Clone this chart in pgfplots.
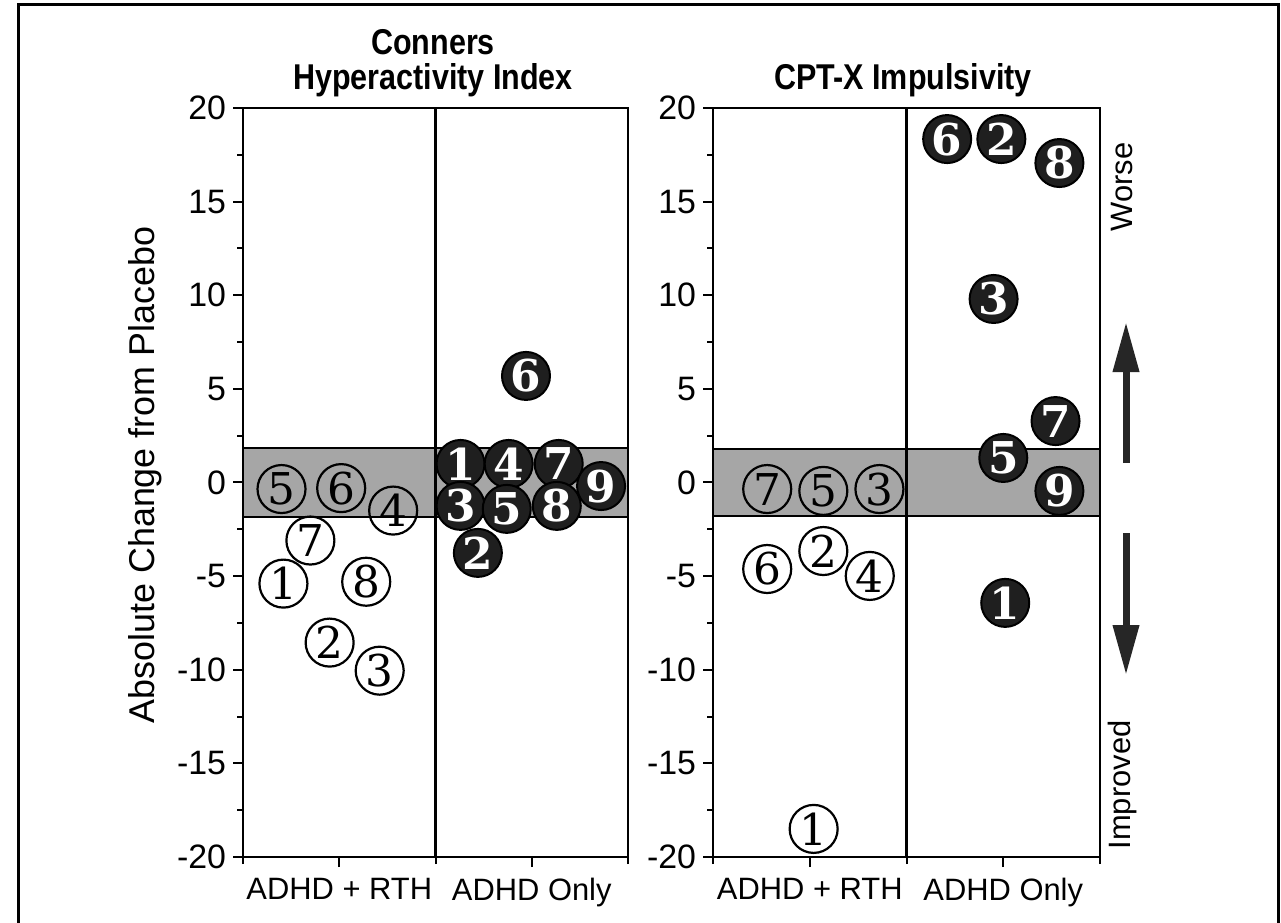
\documentclass[border=0pt]{standalone}
\usepackage{fontspec}
\setmainfont{Liberation Sans}
\newfontfamily\numfont{DejaVu Serif}
\usepackage{pgfplots}
\usepackage{pgfplotstable}
\pgfplotsset{compat=1.18}
\usetikzlibrary{arrows.meta}

\pgfplotstableread{
x y lab
0.20 -0.35 5
0.51 -0.30 6
0.78 -1.50 4
0.35 -3.10 7
0.21 -5.40 1
0.64 -5.30 8
0.45 -8.55 2
0.71 -10.05 3
}\leftopen
\pgfplotstableread{
x y lab
1.13 0.99 1
1.38 0.99 4
1.64 0.99 7
1.86 -0.19 9
1.13 -1.25 3
1.37 -1.41 5
1.63 -1.25 8
1.22 -3.76 2
1.47 5.69 6
}\leftfilled
\pgfplotstableread{
x y lab
0.28 -0.35 7
0.57 -0.45 5
0.86 -0.35 3
0.28 -4.62 6
0.57 -3.66 2
0.81 -4.99 4
0.52 -18.5 1
}\rightopen
\pgfplotstableread{
x y lab
1.21 18.34 6
1.49 18.34 2
1.79 17.06 8
1.45 9.80 3
1.77 3.28 7
1.50 1.31 5
1.79 -0.45 9
1.51 -6.43 1
}\rightfilled

\pgfplotsset{
  panel/.style={
    scale only axis, height=374.5bp,
    anchor=south west,
    xmin=0, xmax=2, ymin=-20, ymax=20,
    clip=false,
    axis line style={line width=1.2bp},
    ytick={-20,-15,...,20}, minor ytick={-17.5,-12.5,...,17.5},
    ytick pos=left, xtick pos=bottom,
    xtick={0.5,1.5}, xticklabels={ADHD + RTH, ADHD Only},
    extra x ticks={0,1,2}, extra x tick labels={},
    extra x tick style={tick align=center, major tick length=7bp},
    tick align=outside,
    major tick length=5bp, minor tick length=3bp,
    every tick/.style={black, line width=1bp},
    yticklabel style={font=\fontsize{17}{17}\selectfont},
    xticklabel style={font=\fontsize{15.5}{15.5}\selectfont, yshift=-2bp},
    /pgf/number format/assume math mode=true,
  },
  openpts/.style={only marks, mark=o, mark size=12bp,
    mark options={line width=1.1bp, black},
    point meta=explicit symbolic, nodes near coords,
    nodes near coords style={anchor=center, inner sep=0pt, text=black,
      font=\numfont\fontsize{22}{22}\selectfont}},
  filledpts/.style={only marks, mark=*, mark size=12bp,
    mark options={line width=1bp, draw=black, fill=black!88},
    point meta=explicit symbolic, nodes near coords,
    nodes near coords style={anchor=center, inner sep=0pt, text=white,
      font=\numfont\bfseries\fontsize{22}{22}\selectfont}},
}

\begin{document}
\begin{tikzpicture}[x=0.5bp, y=0.5bp]
\useasboundingbox (0,0) rectangle (1281,922);
\draw[line width=1.5bp] (18,-5) -- (18,917) -- (1278,917) -- (1278,-5);

% left panel
\begin{axis}[panel, at={(121.5bp,32.5bp)}, width=192.5bp]
  \addplot[draw=black, line width=1bp, fill=black!35] coordinates {(0,-1.85) (2,-1.85) (2,1.85) (0,1.85)} -- cycle;
  \addplot[black, line width=1.2bp] coordinates {(1,-20) (1,20)};
  \addplot[openpts] table[x=x, y=y, meta=lab] {\leftopen};
  \addplot[filledpts] table[x=x, y=y, meta=lab] {\leftfilled};
\end{axis}

% right panel
\begin{axis}[panel, at={(356.5bp,32.5bp)}, width=193.5bp]
  \addplot[draw=black, line width=1bp, fill=black!35] coordinates {(0,-1.8) (2,-1.8) (2,1.8) (0,1.8)} -- cycle;
  \addplot[black, line width=1.2bp] coordinates {(1,-20) (1,20)};
  \addplot[openpts] table[x=x, y=y, meta=lab] {\rightopen};
  \addplot[filledpts] table[x=x, y=y, meta=lab] {\rightfilled};
\end{axis}

% titles
\node[anchor=base, font=\bfseries\fontsize{18}{18}\selectfont] at (433, 922-55) {\scalebox{0.85}[1]{Conners}};
\node[anchor=base, font=\bfseries\fontsize{18}{18}\selectfont] at (433, 922-90) {\scalebox{0.85}[1]{Hyperactivity Index}};
\node[anchor=base, font=\bfseries\fontsize{18}{18}\selectfont] at (903, 922-90) {\scalebox{0.85}[1]{CPT-X Impulsivity}};

% y label
\node[rotate=90, font=\fontsize{18}{18}\selectfont] at (145, 922-475) {Absolute Change from Placebo};

% right annotations
\node[rotate=90, font=\fontsize{15.5}{15.5}\selectfont] at (1122, 922-187) {Worse};
\node[rotate=90, font=\fontsize{15.5}{15.5}\selectfont] at (1122, 922-785) {Improved};
\draw[black!85, line width=3.5bp, -{Triangle[width=12.5bp, length=25bp]}] (1126, 922-463) -- (1126, 922-322);
\draw[black!85, line width=3.5bp, -{Triangle[width=12.5bp, length=25bp]}] (1126, 922-533) -- (1126, 922-675);
\end{tikzpicture}
\end{document}
